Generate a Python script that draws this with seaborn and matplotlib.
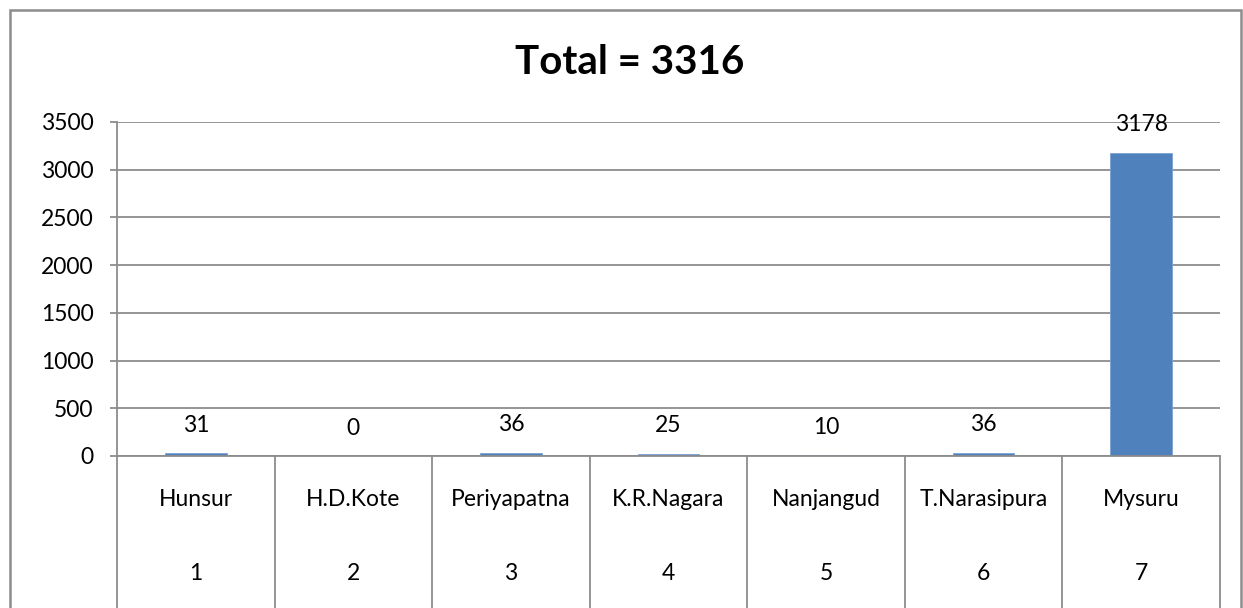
import matplotlib
matplotlib.use("Agg")
import matplotlib.pyplot as plt
import matplotlib.transforms as mtransforms
from matplotlib.patches import Rectangle
import seaborn as sns
import pandas as pd

# Data
taluks = ["Hunsur", "H.D.Kote", "Periyapatna", "K.R.Nagara", "Nanjangud", "T.Narasipura", "Mysuru"]
numbers = ["1", "2", "3", "4", "5", "6", "7"]
counts = [31, 0, 36, 25, 10, 36, 3178]
title_text = "Total = 3316"
yticks = [0, 500, 1000, 1500, 2000, 2500, 3000, 3500]

sns.set_theme(style="white")
plt.rcParams["font.family"] = ["Lato", "DejaVu Sans"]
plt.rcParams["text.color"] = "black"
plt.rcParams["ytick.labelcolor"] = "black"

W, H = 1243, 608
fig = plt.figure(figsize=(W / 100, H / 100), dpi=100)
fig.patch.set_facecolor("white")

gray = "#8c8c8c"
fs = 16.5
ax_left, ax_right, ax_top, ax_bottom = 117, 1220, 122, 456
ax = fig.add_axes([ax_left / W, 1 - ax_bottom / H, (ax_right - ax_left) / W, (ax_bottom - ax_top) / H])

df = pd.DataFrame({"taluk": taluks, "count": counts})
sns.barplot(data=df, x="taluk", y="count", order=taluks, color="#4F81BD",
            saturation=1, width=0.39, ax=ax, edgecolor="#7aa0d4", linewidth=0.6)

ax.set_xlim(-0.5, len(taluks) - 0.5)
ax.set_ylim(0, 3500)
ax.set_yticks(yticks)
ax.set_yticklabels([str(v) for v in yticks], fontsize=fs, color="black")
ax.set_xticks([])
ax.set_xlabel("")
ax.set_ylabel("")
ax.yaxis.grid(True, color=gray, linewidth=1.3)
ax.set_axisbelow(True)
for s in ["top", "right"]:
    ax.spines[s].set_visible(False)
for s in ["left", "bottom"]:
    ax.spines[s].set_color(gray)
    ax.spines[s].set_linewidth(1.3)
ax.tick_params(axis="y", direction="out", length=5, width=1.3, color=gray, pad=12, left=True)

# Data labels
for i, v in enumerate(counts):
    ax.annotate(str(v), (i, v), xytext=(0, 20), textcoords="offset points",
                ha="center", va="center", fontsize=fs, color="black")

# Category axis: two levels with separators
trans = mtransforms.blended_transform_factory(ax.transData, ax.transAxes)
axh = ax_bottom - ax_top
sep_bottom = -(H - ax_bottom + 5) / axh
for k in range(len(taluks) + 1):
    ax.plot([k - 0.5, k - 0.5], [0, sep_bottom], transform=trans, color=gray,
            linewidth=1.3, clip_on=False)
for i, (name, num) in enumerate(zip(taluks, numbers)):
    ax.text(i, -(500 - ax_bottom) / axh, name, transform=trans, ha="center", va="center",
            fontsize=fs, color="black")
    ax.text(i, -(573 - ax_bottom) / axh, num, transform=trans, ha="center", va="center",
            fontsize=fs, color="black")

# Title
fig.text(630 / W, 1 - 63 / H, title_text, ha="center", va="center", fontsize=29,
         fontweight="bold", color="black")

# Chart border
fig.patches.append(Rectangle((10 / W, -0.1), (1241 - 10) / W, 1.1 - 10 / H, transform=fig.transFigure,
                             fill=False, edgecolor=gray, linewidth=1.8, zorder=10))

fig.savefig("out.png", dpi=100, facecolor="white")
